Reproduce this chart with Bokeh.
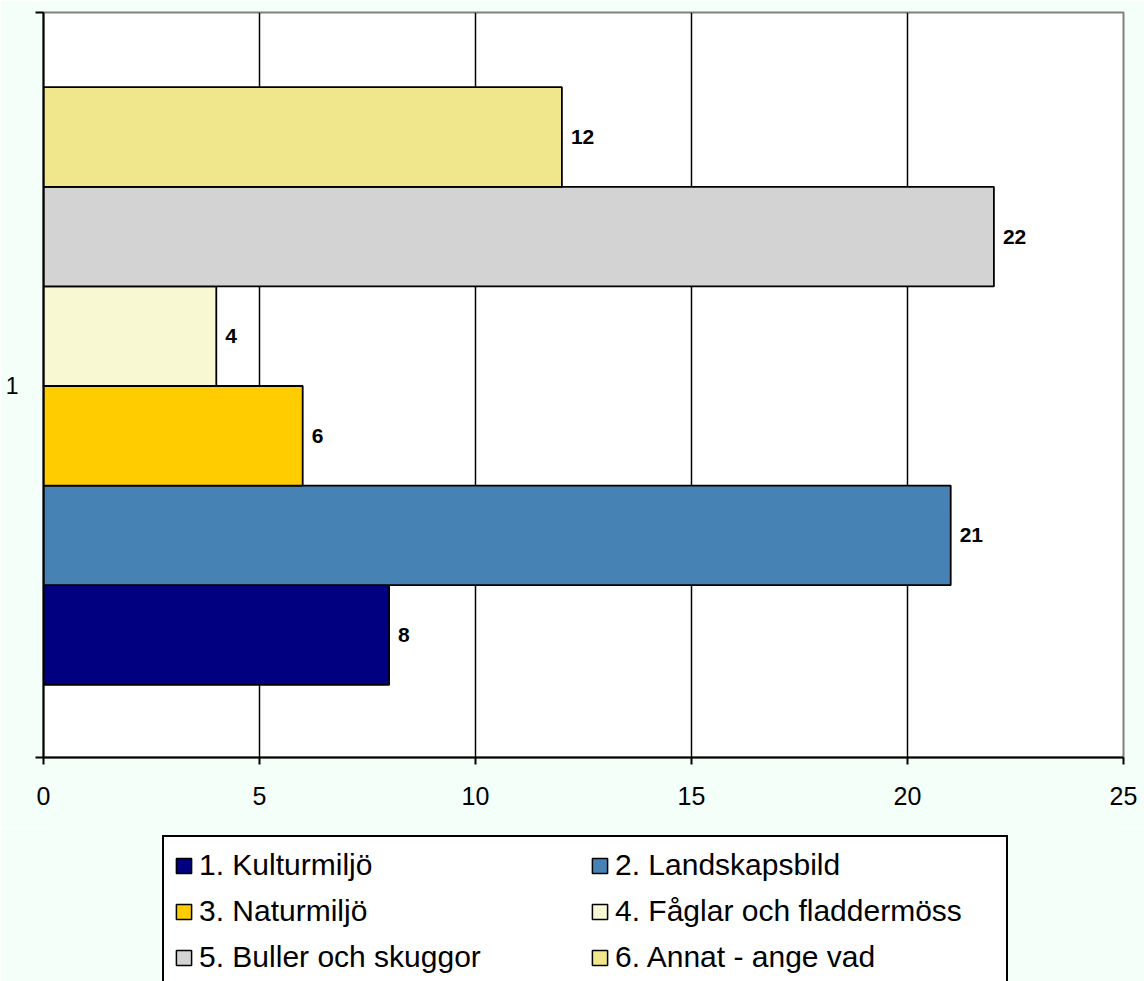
from bokeh.plotting import figure
from bokeh.layouts import column
from bokeh.models import (ColumnDataSource, Range1d, FixedTicker, Legend, LegendItem, LabelSet)
from bokeh.core.properties import value
from bokeh.embed import file_html
from bokeh.resources import INLINE

categories = ["1. Kulturmiljö", "2. Landskapsbild", "3. Naturmiljö",
              "4. Fåglar och fladdermöss", "5. Buller och skuggor", "6. Annat - ange vad"]
values = [8, 21, 6, 4, 22, 12]
colors = ["#000080", "#4682B4", "#FFCC00", "#F8F8D2", "#D3D3D3", "#F0E68C"]
x_ticks = [0, 5, 10, 15, 20, 25]
group_label = "1"

FONT = "Liberation Sans"
BG = "#F3FFF8"

pos = list(range(len(values)))
src = ColumnDataSource(dict(y=pos, v=values, lab=[str(v) for v in values]))

p = figure(frame_width=1080, frame_height=745, output_backend="svg", toolbar_location=None,
           x_range=Range1d(0, 25), y_range=Range1d(-1.23, 6.25),
           min_border_left=43, min_border_top=12, min_border_right=21, min_border_bottom=70)
p.background_fill_color = "white"
p.border_fill_color = BG
p.outline_line_color = "#808080"
p.outline_line_width = 2

for i in pos:
    p.hbar(y=[pos[i]], right=[values[i]], left=0, height=1.0,
           fill_color=colors[i], line_color="black", line_width=1.8)

labels = LabelSet(x="v", y="y", text="lab", source=src, x_offset=9, text_baseline="middle",
                  text_font=value(FONT), text_font_size="21px", text_font_style="bold",
                  text_color="black")
p.add_layout(labels)

# x axis
p.xaxis.ticker = FixedTicker(ticks=x_ticks)
p.xaxis.axis_line_color = "black"
p.xaxis.axis_line_width = 2
p.xaxis.major_tick_line_color = "black"
p.xaxis.major_tick_line_width = 2
p.xaxis.major_tick_in = 0
p.xaxis.major_tick_out = 7
p.xaxis.minor_tick_line_color = None
p.xaxis.major_label_text_font = FONT
p.xaxis.major_label_text_font_size = "25px"
p.xaxis.major_label_text_color = "black"
p.xaxis.major_label_standoff = 22

# y axis
p.yaxis.ticker = FixedTicker(ticks=[-1.23, 6.25])
p.yaxis.major_label_overrides = {-1.23: "", 6.25: ""}
p.yaxis.axis_line_color = "black"
p.yaxis.axis_line_width = 2
p.yaxis.major_tick_line_color = "black"
p.yaxis.major_tick_line_width = 2
p.yaxis.major_tick_in = 0
p.yaxis.major_tick_out = 8
p.yaxis.minor_tick_line_color = None
p.yaxis.major_label_text_font_size = "1px"
p.yaxis.major_label_standoff = 0
p.yaxis.axis_label = group_label
p.yaxis.axis_label_orientation = "horizontal"
p.yaxis.axis_label_text_font = FONT
p.yaxis.axis_label_text_font_size = "23px"
p.yaxis.axis_label_text_font_style = "normal"
p.yaxis.axis_label_text_color = "black"
p.yaxis.axis_label_standoff = 17

p.xgrid.grid_line_color = "black"
p.xgrid.grid_line_width = 1.5
p.ygrid.grid_line_color = None

# legend panel (separate figure below the chart, holding the legend)
q = figure(width=1144, height=160, output_backend="svg", toolbar_location=None,
           x_range=Range1d(0, 1), y_range=Range1d(0, 1),
           x_axis_location=None, y_axis_location=None,
           min_border_left=0, min_border_right=0, min_border_top=0, min_border_bottom=0)
q.background_fill_color = BG
q.border_fill_color = BG
q.outline_line_color = None
q.xgrid.grid_line_color = None
q.ygrid.grid_line_color = None

items = []
for i in pos:
    r = q.hbar(y=[pos[i]], right=[values[i]], left=0, height=1.0,
               fill_color=colors[i], line_color="black", line_width=1.5, visible=False)
    items.append(LegendItem(label=categories[i], renderers=[r]))

legend = Legend(items=items, orientation="horizontal", ncols=2,
                label_text_font=FONT, label_text_font_size="30px", label_text_color="black",
                label_width=381, label_height=36, label_standoff=6,
                glyph_width=19, glyph_height=19, spacing=10,
                padding=10, margin=0,
                border_line_color="black", border_line_width=2, border_line_alpha=1.0,
                background_fill_color="white", background_fill_alpha=1.0,
                inactive_fill_alpha=0.0,
                location=(119, 0))
q.add_layout(legend)

layout = column(p, q, spacing=0)
open("out.html", "w").write(file_html(layout, INLINE))
